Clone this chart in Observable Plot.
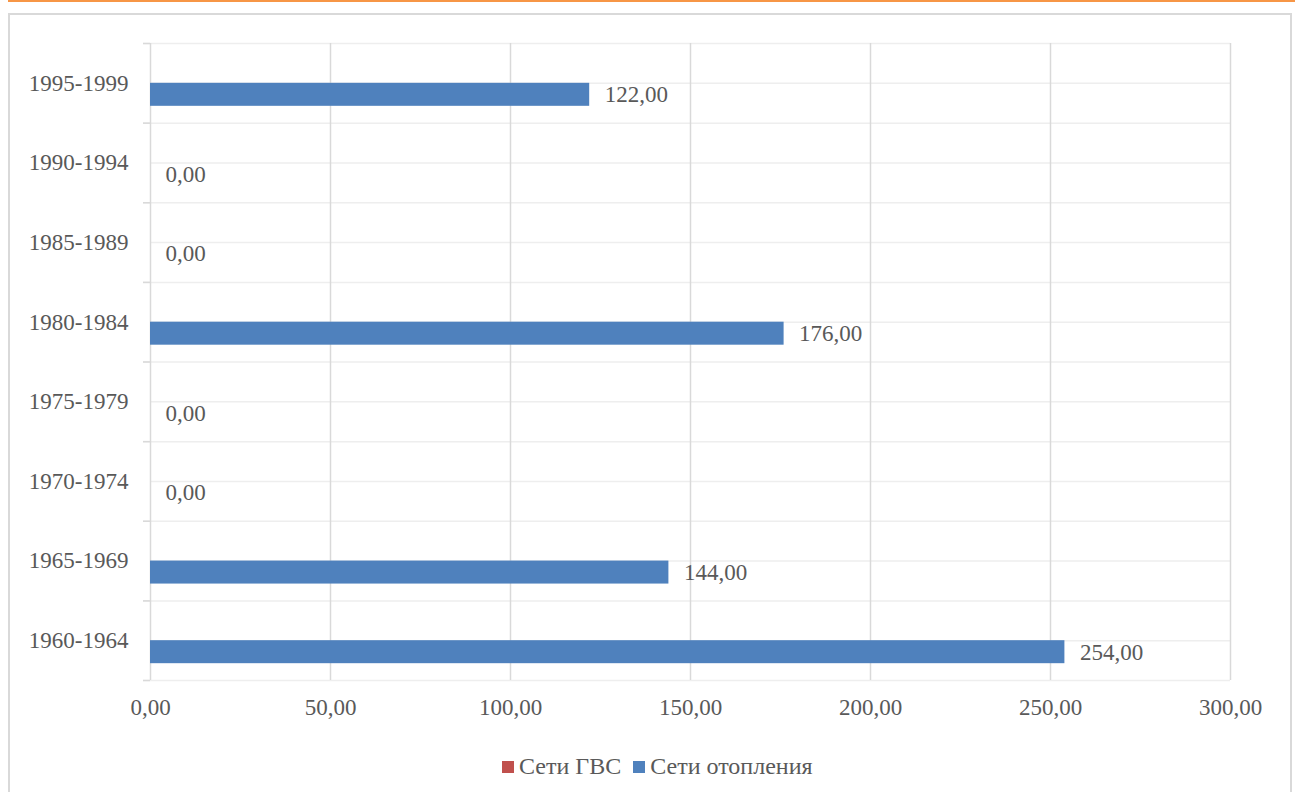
<!DOCTYPE html>
<html>
<head>
<meta charset="utf-8">
<script src="https://cdn.jsdelivr.net/npm/d3@7"></script>
<script src="https://cdn.jsdelivr.net/npm/@observablehq/plot@0.6"></script>
<style>
  html, body { margin: 0; padding: 0; background: #fff; width: 1298px; height: 792px; overflow: hidden; }
  #topline { position: absolute; left: 8px; top: 0; width: 1287px; height: 2px; background: #f79646; }
  #frame { position: absolute; left: 8px; top: 13px; width: 1284px; height: 820px; border: 2px solid #d9d9d9; box-sizing: border-box; }
  #chart { position: absolute; left: 0; top: 0; }
  #legend { position: absolute; left: 502px; top: 753px; display: flex; align-items: center; font-family: "Liberation Serif", "Times New Roman", serif; font-size: 24px; color: #595959; }
  #legend .sw { width: 12px; height: 12px; display: inline-block; margin-right: 5px; }
  #legend .item { display: flex; align-items: center; margin-right: 12px; }
</style>
</head>
<body>
<div id="topline"></div>
<div id="frame"></div>
<div id="chart"></div>
<div id="legend"></div>
<script>
const categories = ["1960-1964","1965-1969","1970-1974","1975-1979","1980-1984","1985-1989","1990-1994","1995-1999"];
const heating = [254, 144, 0, 0, 176, 0, 0, 122];   // Сети отопления
const gvs = [0, 0, 0, 0, 0, 0, 0, 0];                // Сети ГВС
const xTicks = [0, 50, 100, 150, 200, 250, 300];
const seriesNames = ["Сети ГВС", "Сети отопления"];
const seriesColors = ["#c0504d", "#4f81bd"];

const heatingData = categories.map((c, i) => ({category: c, value: heating[i]}));
const gvsData = categories.map((c, i) => ({category: c, value: gvs[i]}));

const locale = d3.formatLocale({decimal: ",", thousands: " ", grouping: [3], currency: ["", ""]});
const fmt = locale.format(".2f");

const W = 1298, H = 740, mt = 43, mb = 60, ml = 150, mr = 68;
const band = (H - mt - mb) / categories.length;
const textColor = "#595959";

const chart = Plot.plot({
  width: W,
  height: H,
  marginTop: mt,
  marginBottom: mb,
  marginLeft: ml,
  marginRight: mr,
  style: {fontFamily: "'Liberation Serif', 'Times New Roman', serif", fontSize: "23px", color: textColor, background: "transparent"},
  x: {domain: [0, 300], ticks: xTicks, tickFormat: fmt, label: null},
  y: {domain: categories.slice().reverse(), padding: 0, round: false, label: null},
  marks: [
    // horizontal lines at band centers
    Plot.ruleY(categories, {y: d => d, stroke: "#eeeeee", strokeWidth: 1.5}),
    // horizontal lines at band boundaries
    Plot.ruleY(categories, {y: d => d, dy: -band / 2, stroke: "#eeeeee", strokeWidth: 1.5, insetLeft: -7}),
    Plot.ruleY(categories.slice(0, 1), {y: d => d, dy: band / 2, stroke: "#eeeeee", strokeWidth: 1.5, insetLeft: -7}),
    // left tick marks at band boundaries
    Plot.ruleY(categories, {y: d => d, dy: -band / 2, x1: 0, x2: 0, insetLeft: -7, stroke: "#d9d9d9", strokeWidth: 1.5}),
    Plot.ruleY(categories.slice(0, 1), {y: d => d, dy: band / 2, x1: 0, x2: 0, insetLeft: -7, stroke: "#d9d9d9", strokeWidth: 1.5}),
    // vertical grid
    Plot.ruleX(xTicks, {stroke: "#d9d9d9", strokeWidth: 1.5}),
    // bars: ГВС (upper half), отопление (lower half)
    Plot.barX(gvsData, {x: "value", y: "category", fill: seriesColors[0], insetTop: 17, insetBottom: band / 2}),
    Plot.barX(heatingData, {x: "value", y: "category", fill: seriesColors[1], insetTop: band / 2, insetBottom: band / 2 - 23}),
    // data labels for отопление
    Plot.text(heatingData, {x: "value", y: "category", text: d => fmt(d.value), dx: 15, dy: 11.5, textAnchor: "start", fill: textColor, fontSize: 23}),
    Plot.axisX({ticks: xTicks, tickFormat: fmt, tickSize: 0, tickPadding: 18, fill: textColor, fontSize: 23, label: null}),
    Plot.axisY({tickSize: 0, tickPadding: 22, fill: textColor, fontSize: 23, label: null})
  ]
});
document.getElementById("chart").appendChild(chart);

const legend = document.getElementById("legend");
seriesNames.forEach((name, i) => {
  const item = document.createElement("div");
  item.className = "item";
  const sw = document.createElement("span");
  sw.className = "sw";
  sw.style.background = seriesColors[i];
  item.appendChild(sw);
  item.appendChild(document.createTextNode(name));
  legend.appendChild(item);
});
</script>
</body>
</html>
